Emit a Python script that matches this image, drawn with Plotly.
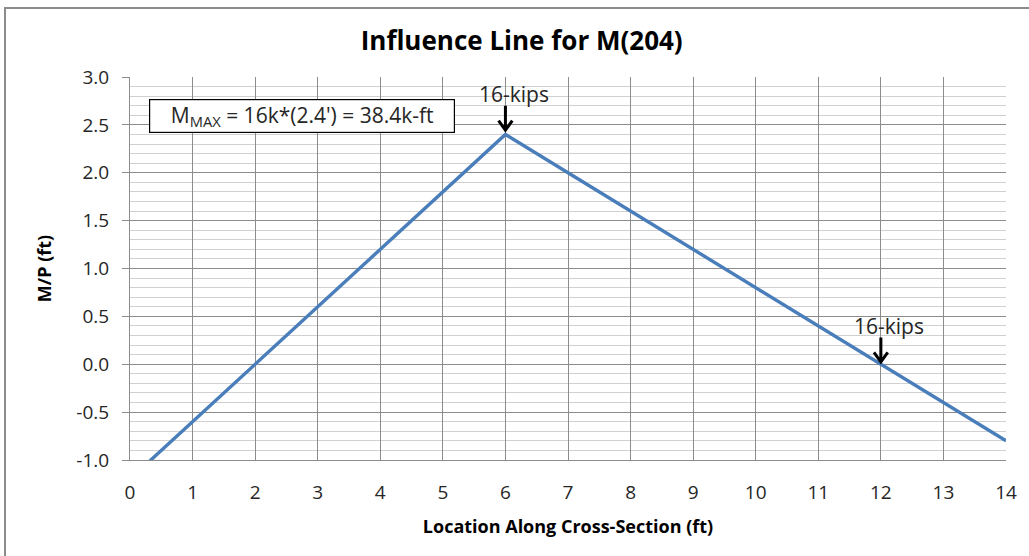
import plotly.graph_objects as go

# Influence line ordinates for M(204): location (ft) vs M/P (ft)
location_ft = [0, 1, 2, 3, 4, 5, 6, 7, 8, 9, 10, 11, 12, 13, 14]
m_over_p = [-1.2, -0.6, 0.0, 0.6, 1.2, 1.8, 2.4, 2.0, 1.6, 1.2, 0.8, 0.4, 0.0, -0.4, -0.8]

# Wheel loads placed on the influence line
load_positions = [6, 12]
load_labels = ["16-kips", "16-kips"]
load_ordinates = [2.4, 0.0]

x_ticks = list(range(0, 15))
y_ticks = [-1.0, -0.5, 0.0, 0.5, 1.0, 1.5, 2.0, 2.5, 3.0]

FONT = "'Open Sans', Lato, sans-serif"
TXT = "#262626"

fig = go.Figure()
fig.add_trace(go.Scatter(
    x=location_ft, y=m_over_p, mode="lines",
    line=dict(color="#4A7EBB", width=3.4),
    hoverinfo="x+y", showlegend=False,
))

# Load arrows with labels
for xp, lab, yv in zip(load_positions, load_labels, load_ordinates):
    tip = yv + 0.045 if yv > 1 else yv + 0.025
    tail = tip + 0.255
    fig.add_shape(type="path",
                  path=f"M {xp},{tail} L {xp},{tip} M {xp-0.11},{tip+0.1} L {xp},{tip} L {xp+0.11},{tip+0.1}",
                  xref="x", yref="y", line=dict(color="black", width=3))
    fig.add_annotation(x=xp + 0.13, y=tail + 0.12, xref="x", yref="y", text=lab,
                       showarrow=False, font=dict(family=FONT, size=21, color=TXT))

# Maximum moment note
fig.add_annotation(x=2.75, y=2.593, xref="x", yref="y",
                   text="M<sub>MAX</sub> = 16k*(2.4') = 38.4k-ft",
                   showarrow=False, bgcolor="white", bordercolor="black", borderwidth=1.2,
                   width=302, height=30, font=dict(family=FONT, size=21, color=TXT))

# Chart-area frame (left and top edges)
fig.add_shape(type="path", xref="paper", yref="paper",
              path="M -0.1427,-0.3 L -0.1427,1.180 L 1.1,1.180",
              line=dict(color="#8C8C8C", width=2))

fig.update_layout(
    width=1029, height=556,
    margin=dict(l=130, r=23, t=77, b=96),
    paper_bgcolor="white", plot_bgcolor="white",
    title=dict(text="<b>Influence Line for M(204)</b>", x=0.507, xref="container", y=0.926,
               xanchor="center", yanchor="middle",
               font=dict(family=FONT, size=26, color="black")),
    font=dict(family=FONT, color=TXT),
    xaxis=dict(range=[0, 14], tickvals=x_ticks, ticktext=[str(v) for v in x_ticks],
               showgrid=True, gridcolor="#8C8C8C", gridwidth=1,
               showline=True, linecolor="#8C8C8C", mirror=False, zeroline=False,
               ticks="", ticklabelstandoff=15,
               tickfont=dict(family=FONT, size=19, color=TXT),
               title=dict(text="<b>Location Along Cross-Section (ft)</b>", standoff=16,
                          font=dict(family=FONT, size=18, color="black"))),
    yaxis=dict(range=[-1.0, 3.0], tickvals=y_ticks, ticktext=[f"{v:.1f}" for v in y_ticks],
               showgrid=True, gridcolor="#8C8C8C", gridwidth=1,
               minor=dict(dtick=0.1, tick0=0, showgrid=True, gridcolor="#D0D0D0", gridwidth=1),
               showline=True, linecolor="#8C8C8C", zeroline=False,
               ticks="outside", ticklen=7, tickcolor="#8C8C8C", ticklabelstandoff=9,
               tickfont=dict(family=FONT, size=19, color=TXT),
               title=dict(text="<b>M/P (ft)</b>", standoff=20,
                          font=dict(family=FONT, size=18, color="black"))),
)

fig.write_html("out.html")
